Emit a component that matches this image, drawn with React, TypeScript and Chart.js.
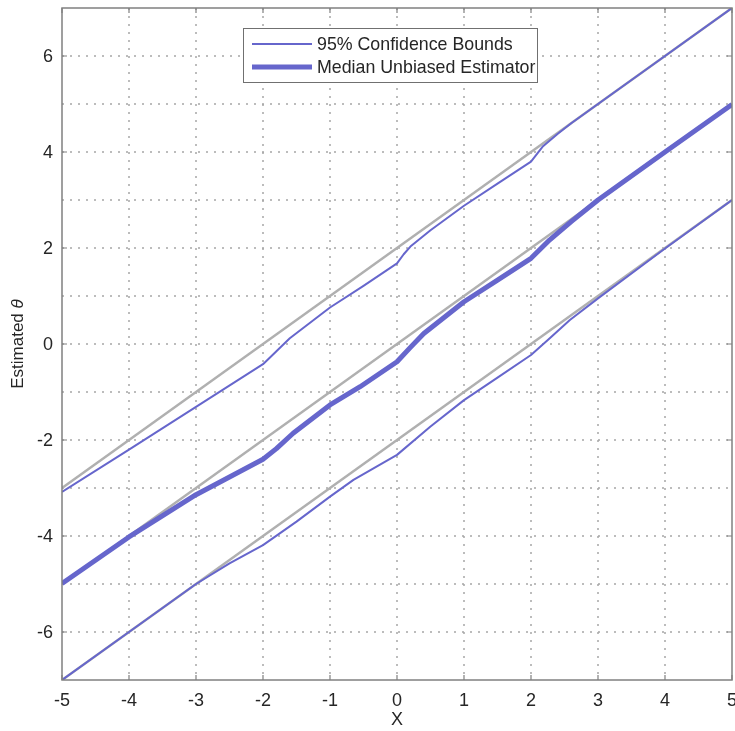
import React, { useEffect, useRef } from 'react';
import { Chart, registerables } from 'chart.js';

Chart.register(...registerables);

// ---------- data ----------
const refX = [-5, 5];
const refUpperY = [-3, 7];
const refMidY = [-5, 5];
const refLowerY = [-7, 3];

const upperX = [-5, -4, -3, -2, -1.8, -1.6, -1, -0.5, 0, 0.1, 0.2, 0.5, 1, 1.5, 2, 2.18, 2.4, 2.6, 3, 4, 5];
const upperY = [-3.08, -2.2, -1.31, -0.42, -0.15, 0.12, 0.76, 1.21, 1.68, 1.87, 2.03, 2.37, 2.88, 3.34, 3.8, 4.12, 4.38, 4.6, 5, 6, 7];

const midX = [-5, -4, -3, -2, -1.8, -1.55, -1, -0.55, 0, 0.2, 0.4, 1, 1.5, 2, 2.28, 2.6, 3, 4, 5];
const midY = [-4.99, -4.02, -3.14, -2.4, -2.18, -1.86, -1.27, -0.89, -0.37, -0.07, 0.22, 0.88, 1.33, 1.785, 2.17, 2.55, 3.0, 4.0, 4.99];

const lowX = [-5, -4, -3, -2.5, -2, -1.5, -1, -0.65, 0, 0.5, 1, 1.5, 2, 2.28, 2.58, 3, 4, 5];
const lowY = [-7, -6, -5, -4.57, -4.19, -3.7, -3.18, -2.83, -2.31, -1.72, -1.17, -0.7, -0.23, 0.12, 0.5, 0.95, 1.99, 3.0];

const boundsLabel = '95% Confidence Bounds';
const medianLabel = 'Median Unbiased Estimator';
const xTitle = 'X';
const yTitleMain = 'Estimated ';
const yTitleSym = 'θ';

// ---------- styles ----------
const FONT = '"Liberation Sans", Arial, Helvetica, sans-serif';
const BLUE = '#6666cc';
const GRAY = '#b0b0b0';
const GRID = '#a6a6a6';
const FRAME = '#808080';
const TEXT = '#262626';
const TICK_FONT = 18;
const LEGEND_FONT = 17.8;
const XTITLE_FONT = 18;
const YTITLE_FONT = 17;

const pts = (xs: number[], ys: number[]) => xs.map((x, i) => ({ x, y: ys[i] }));

const decorPlugin = {
  id: 'decor',
  beforeDatasetsDraw(chart: any) {
    const { ctx, chartArea: a, scales } = chart;
    const x = scales.x;
    const y = scales.y;
    ctx.save();
    ctx.strokeStyle = GRID;
    ctx.lineWidth = 1.5;
    ctx.setLineDash([2, 6]);
    x.ticks.forEach((t: any) => {
      const px = Math.round(x.getPixelForValue(t.value));
      if (px > a.left + 2 && px < a.right - 2) {
        ctx.beginPath();
        ctx.moveTo(px, a.top);
        ctx.lineTo(px, a.bottom);
        ctx.stroke();
      }
    });
    y.ticks.forEach((t: any) => {
      const py = Math.round(y.getPixelForValue(t.value));
      if (py > a.top + 2 && py < a.bottom - 2) {
        ctx.beginPath();
        ctx.moveTo(a.left, py);
        ctx.lineTo(a.right, py);
        ctx.stroke();
      }
    });
    ctx.restore();
  },
  afterDatasetsDraw(chart: any) {
    const { ctx, chartArea: a, scales } = chart;
    const x = scales.x;
    const y = scales.y;
    ctx.save();
    // frame
    ctx.setLineDash([]);
    ctx.strokeStyle = FRAME;
    ctx.lineWidth = 1.5;
    ctx.strokeRect(a.left, a.top, a.right - a.left, a.bottom - a.top);
    // tick marks
    const tl = 5;
    ctx.lineWidth = 1.2;
    x.ticks.forEach((t: any) => {
      const px = x.getPixelForValue(t.value);
      ctx.beginPath();
      ctx.moveTo(px, a.bottom);
      ctx.lineTo(px, a.bottom - tl);
      ctx.moveTo(px, a.top);
      ctx.lineTo(px, a.top + tl);
      ctx.stroke();
    });
    y.ticks.forEach((t: any) => {
      if (t.value % 2 !== 0) return;
      const py = y.getPixelForValue(t.value);
      ctx.beginPath();
      ctx.moveTo(a.left, py);
      ctx.lineTo(a.left + tl, py);
      ctx.moveTo(a.right, py);
      ctx.lineTo(a.right - tl, py);
      ctx.stroke();
    });

    // tick labels
    ctx.fillStyle = TEXT;
    ctx.textBaseline = 'alphabetic';
    ctx.font = `${TICK_FONT}px ${FONT}`;
    const capH = 0.716 * TICK_FONT;
    ctx.textAlign = 'center';
    x.ticks.forEach((t: any) => {
      const px = x.getPixelForValue(t.value);
      ctx.fillText(String(t.value), px, a.bottom + 20 + capH / 2);
    });
    ctx.textAlign = 'right';
    y.ticks.forEach((t: any) => {
      if (t.value % 2 !== 0) return;
      const py = y.getPixelForValue(t.value);
      ctx.fillText(String(t.value), a.left - 9, py + capH / 2);
    });

    // x title
    ctx.textAlign = 'center';
    ctx.font = `${XTITLE_FONT}px ${FONT}`;
    ctx.fillText(xTitle, (a.left + a.right) / 2, a.bottom + 39 + (0.716 * XTITLE_FONT) / 2);

    // legend
    const entries: any[] = [];
    const seen = new Set<string>();
    chart.data.datasets.forEach((d: any) => {
      if (d.label && !seen.has(d.label)) {
        seen.add(d.label);
        entries.push(d);
      }
    });
    const bx = a.left + 181;
    const by = a.top + 20;
    const bw = 294;
    const bh = 54;
    ctx.fillStyle = '#ffffff';
    ctx.fillRect(bx, by, bw, bh);
    ctx.strokeStyle = '#707070';
    ctx.lineWidth = 1;
    ctx.strokeRect(bx + 0.5, by + 0.5, bw, bh);
    ctx.font = `${LEGEND_FONT}px ${FONT}`;
    ctx.textBaseline = 'alphabetic';
    ctx.textAlign = 'left';
    entries.forEach((d: any, i: number) => {
      const ly = by + 16 + i * 23;
      ctx.strokeStyle = d.borderColor;
      ctx.lineWidth = d.borderWidth;
      ctx.beginPath();
      ctx.moveTo(bx + 9, ly);
      ctx.lineTo(bx + 69, ly);
      ctx.stroke();
      ctx.fillStyle = TEXT;
      ctx.fillText(d.label, bx + 74, ly + (0.716 * LEGEND_FONT) / 2);
    });

    // y title with italic theta
    const cy = (a.top + a.bottom) / 2;
    ctx.translate(18, cy);
    ctx.rotate(-Math.PI / 2);
    ctx.font = `${YTITLE_FONT}px ${FONT}`;
    const w1 = ctx.measureText(yTitleMain).width;
    ctx.font = `italic ${YTITLE_FONT}px ${FONT}`;
    const w2 = ctx.measureText(yTitleSym).width;
    const start = -(w1 + w2) / 2;
    ctx.fillStyle = TEXT;
    ctx.textBaseline = 'middle';
    ctx.textAlign = 'left';
    ctx.font = `${YTITLE_FONT}px ${FONT}`;
    ctx.fillText(yTitleMain, start, 0);
    ctx.font = `italic ${YTITLE_FONT}px ${FONT}`;
    ctx.fillText(yTitleSym, start + w1, 0);
    ctx.restore();
  },
};

export default function App() {
  const ref = useRef<HTMLCanvasElement | null>(null);

  useEffect(() => {
    if (!ref.current) return;
    const chart = new Chart(ref.current, {
      type: 'line',
      data: {
        datasets: [
          { label: boundsLabel, data: pts(upperX, upperY), borderColor: BLUE, borderWidth: 2, order: 0 },
          { label: medianLabel, data: pts(midX, midY), borderColor: BLUE, borderWidth: 5, order: 0 },
          { label: boundsLabel, data: pts(lowX, lowY), borderColor: BLUE, borderWidth: 2, order: 0 },
          { label: '', data: pts(refX, refUpperY), borderColor: GRAY, borderWidth: 2.5, order: 1 },
          { label: '', data: pts(refX, refMidY), borderColor: GRAY, borderWidth: 2.5, order: 1 },
          { label: '', data: pts(refX, refLowerY), borderColor: GRAY, borderWidth: 2.5, order: 1 },
        ],
      },
      options: {
        animation: false,
        responsive: false,
        events: [],
        layout: { padding: { top: 8, right: 3, left: 0, bottom: 0 } },
        elements: {
          point: { radius: 0 },
          line: { tension: 0, borderCapStyle: 'butt', borderJoinStyle: 'round', fill: false },
        },
        plugins: { legend: { display: false }, tooltip: { enabled: false } },
        scales: {
          x: {
            type: 'linear',
            min: -5,
            max: 5,
            grid: { display: false, drawTicks: false },
            border: { display: false },
            ticks: { stepSize: 1, autoSkip: false, display: false },
            afterFit: (s: any) => {
              s.height = 51;
              s.paddingLeft = 0;
              s.paddingRight = 0;
            },
          },
          y: {
            type: 'linear',
            min: -7,
            max: 7,
            grid: { display: false, drawTicks: false },
            border: { display: false },
            ticks: { stepSize: 1, autoSkip: false, display: false },
            afterFit: (s: any) => {
              s.width = 62;
              s.paddingTop = 0;
              s.paddingBottom = 0;
            },
          },
        },
      },
      plugins: [decorPlugin],
    } as any);
    return () => chart.destroy();
  }, []);

  return (
    <div style={{ position: 'fixed', left: 0, top: 0, width: 735, height: 731, background: '#fff' }}>
      <canvas ref={ref} width={735} height={731} style={{ display: 'block' }} />
    </div>
  );
}
